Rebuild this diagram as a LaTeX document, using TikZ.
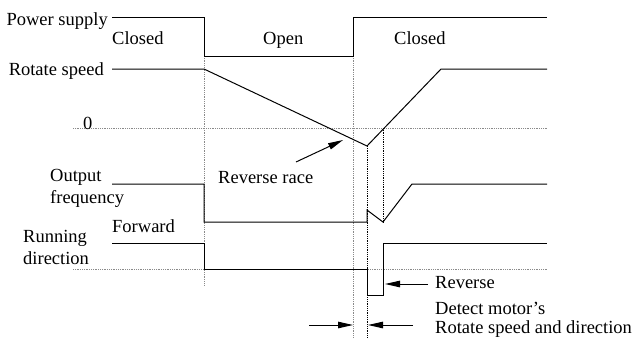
\documentclass[tikz,border=0pt]{standalone}
\usepackage{fontspec}
\setmainfont{Liberation Serif}
\usetikzlibrary{arrows.meta, positioning, calc}
\definecolor{guidegray}{HTML}{8A8A8A}

\begin{document}
\begin{tikzpicture}[
  x=1pt, y=-1pt,
  wave/.style={line width=1pt, black, line join=miter},
  guide/.style={densely dotted, line width=0.8pt, color=guidegray},
  darkguide/.style={densely dotted, line width=0.8pt, color=black},
  lbl/.style={inner sep=0pt, font=\fontsize{18.5}{22}\selectfont},
  twolbl/.style={lbl, align=left},
  arrow/.style={-{Triangle[length=15pt, width=6.5pt]}, line width=1pt}
]
  \useasboundingbox (0,0) rectangle (632,338);

  % time marks
  \coordinate (toff) at (204,0);
  \coordinate (ton)  at (353,0);
  \coordinate (tdet) at (367,0);
  \coordinate (trev) at (383,0);

  % guide lines
  \draw[guide] (73,128) -- (547,128);
  \draw[guide] (73,269) -- (547,269);
  \draw[guide] (toff |- 0,56) -- (toff |- 0,286);
  \draw[guide] (ton |- 0,56) -- (ton |- 0,338);
  \draw[darkguide] (tdet |- 0,146) -- (tdet |- 0,338);
  \draw[darkguide] (trev |- 0,128) -- (trev |- 0,222);

  % waveforms
  \draw[wave] (112,17) -- (204,17) -- (204,56) -- (353,56) -- (353,17) -- (547,17);
  \draw[wave] (112,69) -- (204,69) -- (367,146) -- (441,69) -- (547,69);
  \draw[wave] (112,184) -- (204,184) -- (204,222) -- (367,222) -- (367,210)
    -- (383,222) -- (412,184) -- (547,184);
  \draw[wave] (112,243) -- (204,243) -- (204,269) -- (367,269) -- (367,295)
    -- (383,295) -- (383,243) -- (547,243);

  % labels (two-line nodes sit on their last baseline)
  \node[lbl, anchor=base east] (power) at (108,25) {Power supply};
  \node[lbl, anchor=base west] (closed1) at (112,44) {Closed};
  \node[lbl, anchor=base west] (open) at (263,44) {Open};
  \node[lbl, anchor=base west] (closed2) at (394,44) {Closed};
  \node[lbl, anchor=base east] (speed) at (104,75) {Rotate speed};
  \node[lbl, anchor=base west] (zero) at (83,129) {0};
  \node[twolbl, anchor=base west] (outfreq) at (50,203) {Output\\frequency};
  \node[lbl, anchor=base west] (forward) at (112,232) {Forward};
  \node[twolbl, anchor=base west] (rundir) at (23,264) {Running\\direction};
  \node[lbl, anchor=base west] (race) at (218,183) {Reverse race};
  \node[lbl, anchor=base west] (reverse) at (435,288) {Reverse};
  \node[twolbl, anchor=base west, font=\fontsize{18.5}{19}\selectfont]
    (detect) at (435,333) {Detect motor’s\\Rotate speed and direction};

  % pointers
  \coordinate (racetail) at (296,162);
  \coordinate (racetip)  at (343,140);
  \draw[arrow] (racetail) -- (racetip);
  \coordinate (revtail) at (428,284);
  \coordinate (revtip)  at (385,284);
  \draw[arrow] (revtail) -- (revtip);
  \coordinate (gapleft)  at (309,325);
  \coordinate (gapright) at (413,325);
  \draw[arrow] (gapleft) -- (ton |- gapleft);
  \draw[arrow] (gapright) -- ($(tdet |- gapright)+(1,0)$);
\end{tikzpicture}
\end{document}
